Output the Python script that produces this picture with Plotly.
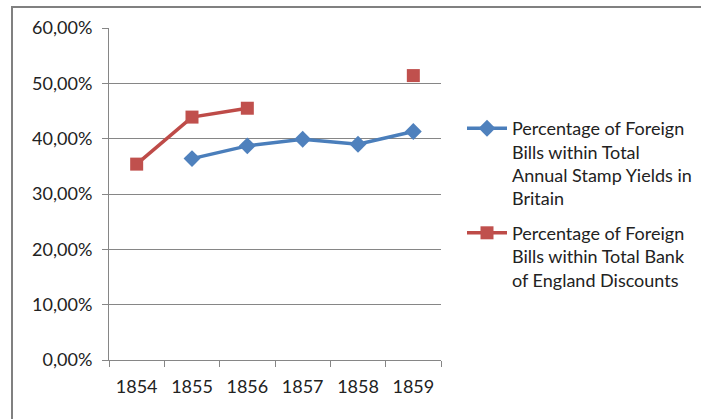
import plotly.graph_objects as go

years = ["1854", "1855", "1856", "1857", "1858", "1859"]
stamp_yields = [None, 0.364, 0.387, 0.399, 0.390, 0.413]
bank_discounts = [0.354, 0.439, 0.455, None, None, 0.514]
y_ticks = [0, 0.1, 0.2, 0.3, 0.4, 0.5, 0.6]

name1 = "Percentage of Foreign<br>Bills within Total<br>Annual Stamp Yields in<br>Britain"
name2 = "Percentage of Foreign<br>Bills within Total Bank<br>of England Discounts"

fig = go.Figure()
fig.add_trace(go.Scatter(
    x=years, y=stamp_yields, name=name1, mode="lines+markers",
    legendgroup="a",
    line=dict(color="#4A7EBB", width=3.5),
    marker=dict(symbol="diamond", size=13, color="#4F81BD", line=dict(width=0)),
    connectgaps=False,
))
fig.add_trace(go.Scatter(
    x=years, y=bank_discounts, name=name2, mode="lines+markers",
    legendgroup="b",
    line=dict(color="#BE4B48", width=3.5),
    marker=dict(symbol="square", size=13, color="#C0504D", line=dict(width=0)),
    connectgaps=False,
))

W, H = 701, 419
L, R, T, B = 109, 441, 28, 360
pw, ph = R - L, B - T

def px(x):
    return (x - L) / pw

def py(y):
    return (B - y) / ph

fig.update_layout(
    width=W, height=H, autosize=False,
    margin=dict(l=L, r=W - R, t=T, b=H - B, pad=0, autoexpand=False),
    paper_bgcolor="white", plot_bgcolor="white",
    separators=",.",
    font=dict(family="Lato, Open Sans, sans-serif", size=18, color="#222222"),
    showlegend=True,
    legend=dict(
        xref="container", yref="container",
        x=462 / W, y=1 - 110 / H, xanchor="left", yanchor="top",
        valign="top", tracegroupgap=8,
        font=dict(size=18, color="#222222"),
        itemwidth=40,
        bgcolor="rgba(0,0,0,0)",
    ),
    xaxis=dict(
        type="category", range=[-0.5, 5.5], automargin=False,
        tickson="boundaries", ticks="outside", ticklen=6, tickcolor="#868686",
        showline=True, linecolor="#868686", linewidth=1,
        showgrid=False, zeroline=False,
        tickfont=dict(size=18), ticklabelstandoff=10,
    ),
    yaxis=dict(
        range=[0, 0.6], tickvals=y_ticks, tickformat=".2%", automargin=False,
        ticks="outside", ticklen=6, tickcolor="#868686",
        showline=True, linecolor="#868686", linewidth=1,
        showgrid=True, gridcolor="#868686", gridwidth=1,
        zeroline=False,
        tickfont=dict(size=18), ticklabelstandoff=6,
    ),
    shapes=[
        dict(type="line", xref="paper", yref="paper",
             x0=px(12), x1=px(12), y0=py(6), y1=py(H + 5),
             line=dict(color="#808080", width=2)),
        dict(type="line", xref="paper", yref="paper",
             x0=px(12), x1=px(W + 5), y0=py(7), y1=py(7),
             line=dict(color="#808080", width=2)),
    ],
)

fig.write_html(
    "out.html",
    config={"displayModeBar": False},
    post_script="document.body.style.margin='0';document.body.style.overflow='hidden';",
)
